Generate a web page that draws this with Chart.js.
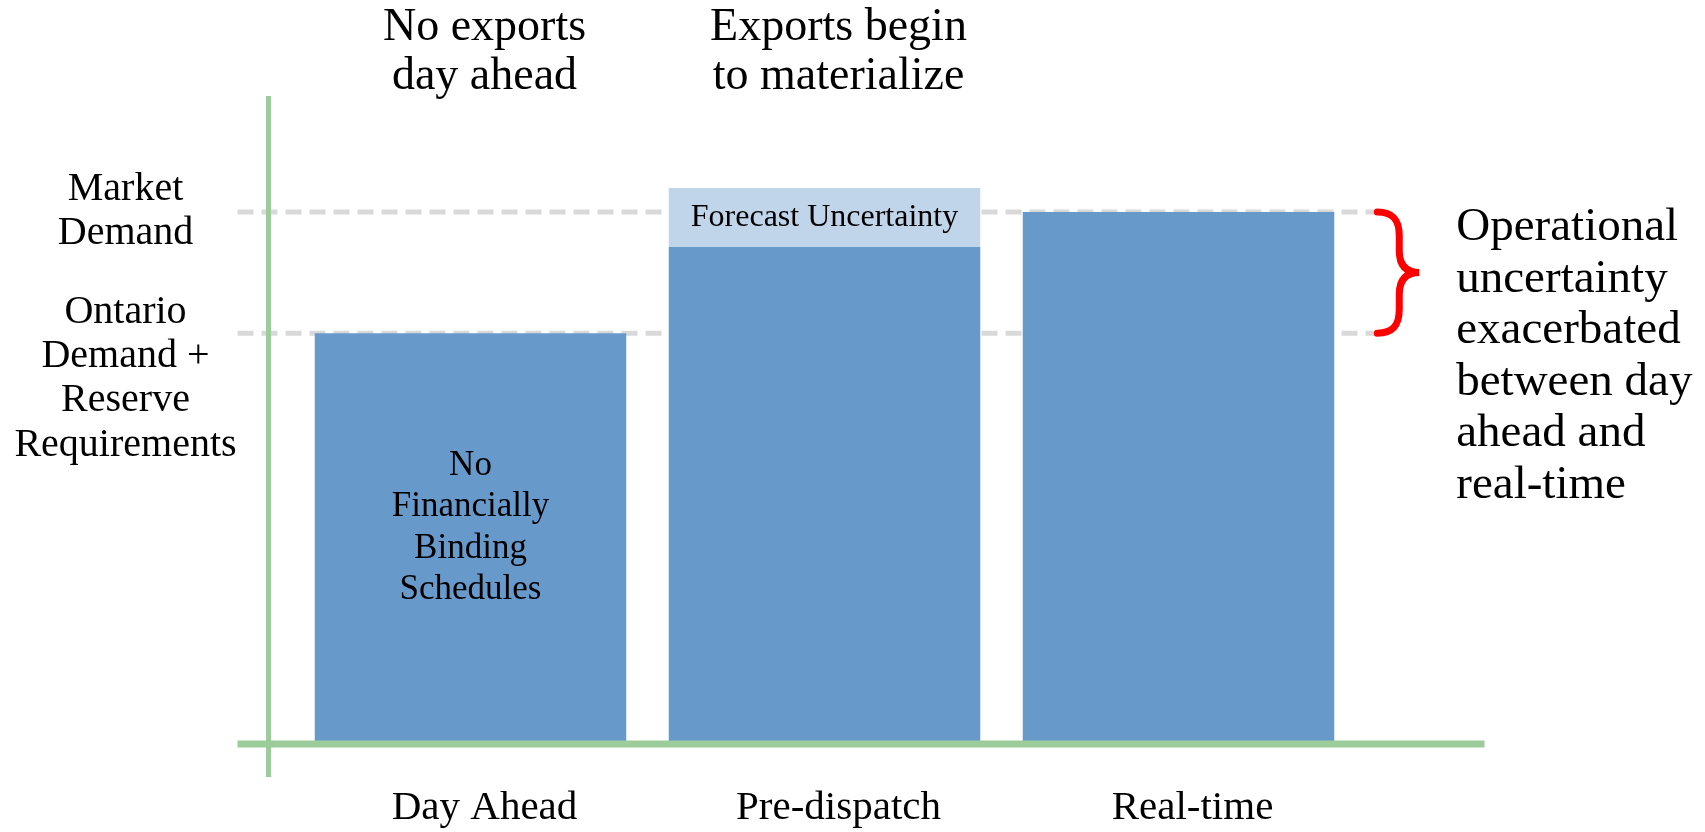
<!DOCTYPE html>
<html>
<head>
<meta charset="utf-8">
<script src="https://cdn.jsdelivr.net/npm/chart.js@4/dist/chart.umd.min.js"></script>
<style>
  body { margin: 0; background: #fff; }
  canvas { display: block; }
</style>
</head>
<body>
<canvas id="grafica" width="1705" height="832"></canvas>
<script>
// datos
const categorias = ['Day Ahead', 'Pre-dispatch', 'Real-time'];
const demandaProgramada = [63.4, 76.7, 82.1];
const incertidumbre = [0, 9.1, 0];
const nivelOntario = 63.4;   // Ontario Demand + Reserve Requirements
const nivelMercado = 82.1;   // Market Demand
const etiquetaOntario = ['Ontario', 'Demand +', 'Reserve', 'Requirements'];
const etiquetaMercado = ['Market', 'Demand'];
const titulosEtapa = [['No exports', 'day ahead'], ['Exports begin', 'to materialize'], []];
const notasBarra = [['No', 'Financially', 'Binding', 'Schedules'], [], []];
const notaIncertidumbre = 'Forecast Uncertainty';
const notaLlave = ['Operational', 'uncertainty', 'exacerbated', 'between day', 'ahead and', 'real-time'];

const fuente = "'Liberation Serif', 'DejaVu Serif', serif";
const verde = '#9BCC99';
const gris = '#D9D9D9';

function lineas(ctx, textos, x, y0, paso) {
  textos.forEach((t, i) => ctx.fillText(t, x, y0 + i * paso));
}

const anotaciones = {
  id: 'anotaciones',
  beforeDatasetsDraw(chart) {
    const ctx = chart.ctx, a = chart.chartArea, y = chart.scales.y;
    const barra = chart.getDatasetMeta(0).data[2];
    const xFin = barra.x + barra.width / 2 + 43;
    ctx.save();
    ctx.strokeStyle = gris;
    ctx.lineWidth = 5;
    ctx.setLineDash([16, 8]);
    [nivelOntario, nivelMercado].forEach(v => {
      const py = y.getPixelForValue(v);
      ctx.beginPath();
      ctx.moveTo(a.left - 56, py);
      ctx.lineTo(xFin, py);
      ctx.stroke();
    });
    ctx.restore();
  },
  afterDatasetsDraw(chart) {
    const ctx = chart.ctx, a = chart.chartArea, x = chart.scales.x, y = chart.scales.y;
    ctx.save();

    // ejes verdes
    ctx.fillStyle = verde;
    ctx.fillRect(a.left - 56, a.bottom - 3.5, a.right - a.left + 185, 7);
    ctx.fillRect(a.left - 27.5, a.top, 5, a.bottom - a.top + 33);

    ctx.fillStyle = '#000';
    ctx.textAlign = 'center';
    ctx.textBaseline = 'middle';

    // titulos de arriba y etiquetas de abajo
    categorias.forEach((c, i) => {
      const px = x.getPixelForValue(i) + 14;
      ctx.font = '46px ' + fuente;
      lineas(ctx, titulosEtapa[i], px, 28, 49);
      ctx.font = '41px ' + fuente;
      ctx.fillText(c, px, 808);
    });

    // texto dentro de las barras
    const meta0 = chart.getDatasetMeta(0);
    notasBarra.forEach((n, i) => {
      if (!n.length) return;
      const el = meta0.data[i];
      const medio = (el.y + el.base) / 2 - 11;
      ctx.font = '35px ' + fuente;
      lineas(ctx, n, el.x, medio - (n.length - 1) * 41.5 / 2, 41.5);
    });

    // incertidumbre del pronostico
    const meta1 = chart.getDatasetMeta(1);
    incertidumbre.forEach((v, i) => {
      if (!v) return;
      const el = meta1.data[i];
      ctx.font = '32px ' + fuente;
      ctx.fillText(notaIncertidumbre, el.x, (el.y + el.base) / 2);
    });

    // etiquetas de la izquierda
    const xIzq = a.left - 168;
    ctx.font = '40px ' + fuente;
    const yM = y.getPixelForValue(nivelMercado);
    lineas(ctx, etiquetaMercado, xIzq, yM - 22, 44);
    const yO = y.getPixelForValue(nivelOntario);
    lineas(ctx, etiquetaOntario, xIzq, yO - 21, 44.3);

    // llave roja
    const barra = meta0.data[2];
    const x0 = barra.x + barra.width / 2 + 43;
    const mid = (yM + yO) / 2;
    ctx.strokeStyle = '#FF0000';
    ctx.lineWidth = 7;
    ctx.lineCap = 'round';
    ctx.beginPath();
    ctx.moveTo(x0, yM);
    ctx.bezierCurveTo(x0 + 16, yM, x0 + 22, yM + 8, x0 + 22, yM + 24);
    ctx.lineTo(x0 + 22, mid - 22);
    ctx.bezierCurveTo(x0 + 22, mid - 6, x0 + 30, mid, x0 + 42, mid);
    ctx.bezierCurveTo(x0 + 30, mid, x0 + 22, mid + 6, x0 + 22, mid + 22);
    ctx.lineTo(x0 + 22, yO - 24);
    ctx.bezierCurveTo(x0 + 22, yO - 8, x0 + 16, yO, x0, yO);
    ctx.stroke();

    // texto de la derecha
    ctx.textAlign = 'left';
    ctx.font = '47px ' + fuente;
    lineas(ctx, notaLlave, x0 + 79, yM + 16, 51.5);

    ctx.restore();
  }
};

new Chart(document.getElementById('grafica'), {
  type: 'bar',
  data: {
    labels: categorias,
    datasets: [
      { label: 'Demand', data: demandaProgramada, backgroundColor: '#679ACB', stack: 's' },
      { label: 'Forecast Uncertainty', data: incertidumbre, backgroundColor: '#C0D5EA', stack: 's' }
    ]
  },
  options: {
    responsive: false,
    animation: false,
    layout: { padding: { left: 293.5, right: 349.5, top: 96, bottom: 88 } },
    datasets: { bar: { barPercentage: 1, categoryPercentage: 0.88, borderWidth: 0 } },
    plugins: { legend: { display: false }, tooltip: { enabled: false } },
    scales: {
      x: { display: false, stacked: true },
      y: { display: false, stacked: true, min: 0, max: 100 }
    }
  },
  plugins: [anotaciones]
});
</script>
</body>
</html>
